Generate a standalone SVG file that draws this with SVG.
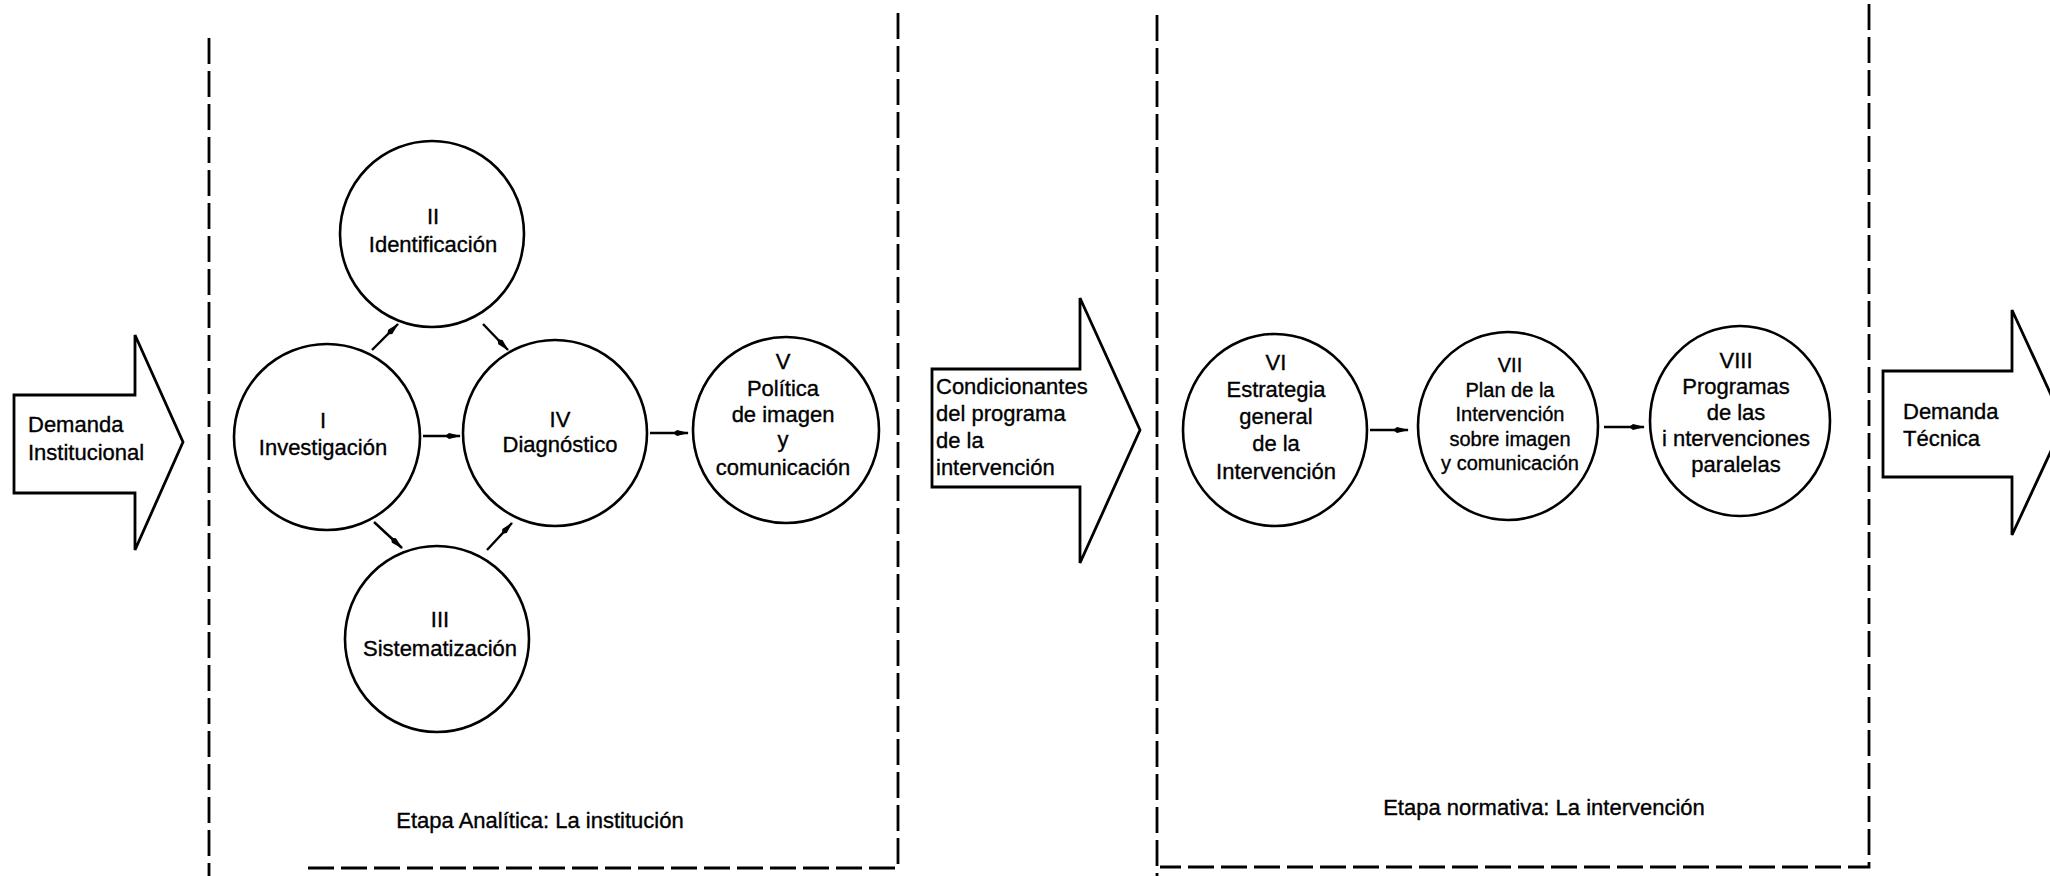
<svg xmlns="http://www.w3.org/2000/svg" width="2050" height="876" viewBox="0 0 2050 876">
<style>
  .bg { fill: #ffffff; }
  .node { fill: #ffffff; stroke: #000; stroke-width: 2.6; }
  .big { fill: #ffffff; stroke: #000; stroke-width: 2.8; stroke-linejoin: miter; }
  .frame { fill: none; stroke: #000; stroke-width: 2.8; stroke-dasharray: 26 7; }
  .conn { fill: none; stroke: #000; stroke-width: 2.4; }
  text { font-family: "Liberation Sans", Arial, sans-serif; font-size: 22px; fill: #000; stroke: #000; stroke-width: 0.35; }
  .c { text-anchor: middle; }
  .s { font-size: 20px; }
</style>
<defs>
  <marker id="ah" viewBox="0 0 16 8" refX="15" refY="4" markerWidth="16" markerHeight="8" markerUnits="userSpaceOnUse" orient="auto">
    <path d="M0,4 L4,1 L16,4 L4,7 Z" fill="#000"/>
  </marker>
</defs>
<rect class="bg" x="0" y="0" width="2050" height="876"/>

<g id="frames">
  <path class="frame" d="M209,38 L209,876"/>
  <path class="frame" d="M898,13 L898,868 L305,868"/>
  <path class="frame" d="M1157,15 L1157,876"/>
  <path class="frame" d="M1869,4 L1869,867 L1160,867"/>
</g>

<g id="arrow-demanda-institucional">
  <path class="big" d="M14,395 L135,395 L135,335 L183,442 L135,550 L135,493 L14,493 Z"/>
  <text x="28" y="432">Demanda</text>
  <text x="28" y="460">Institucional</text>
</g>

<g id="arrow-condicionantes">
  <path class="big" d="M932,369 L1080,369 L1080,298 L1140,430 L1080,563 L1080,487 L932,487 Z"/>
  <text x="936" y="394">Condicionantes</text>
  <text x="936" y="421">del programa</text>
  <text x="936" y="448">de la</text>
  <text x="936" y="475">intervención</text>
</g>

<g id="arrow-demanda-tecnica">
  <path class="big" d="M1883,371 L2012,371 L2012,310 L2064,423 L2012,535 L2012,477 L1883,477 Z"/>
  <text x="1903" y="419">Demanda</text>
  <text x="1903" y="446">Técnica</text>
</g>

<g id="node-I">
  <ellipse class="node" cx="327" cy="437" rx="93" ry="93"/>
  <text class="c" x="323" y="428">I</text>
  <text class="c" x="323" y="455">Investigación</text>
</g>
<g id="node-II">
  <ellipse class="node" cx="432" cy="234" rx="92" ry="93"/>
  <text class="c" x="433" y="224">II</text>
  <text class="c" x="433" y="252">Identificación</text>
</g>
<g id="node-III">
  <ellipse class="node" cx="437" cy="639" rx="92" ry="93"/>
  <text class="c" x="440" y="627">III</text>
  <text class="c" x="440" y="656">Sistematización</text>
</g>
<g id="node-IV">
  <ellipse class="node" cx="555" cy="433" rx="92" ry="93"/>
  <text class="c" x="560" y="427">IV</text>
  <text class="c" x="560" y="452">Diagnóstico</text>
</g>
<g id="node-V">
  <ellipse class="node" cx="786" cy="430" rx="93" ry="93"/>
  <text class="c" x="783" y="369">V</text>
  <text class="c" x="783" y="396">Política</text>
  <text class="c" x="783" y="422">de imagen</text>
  <text class="c" x="783" y="447">y</text>
  <text class="c" x="783" y="475">comunicación</text>
</g>
<g id="node-VI">
  <ellipse class="node" cx="1275" cy="430" rx="92" ry="96"/>
  <text class="c" x="1276" y="370">VI</text>
  <text class="c" x="1276" y="397">Estrategia</text>
  <text class="c" x="1276" y="424">general</text>
  <text class="c" x="1276" y="451">de la</text>
  <text class="c" x="1276" y="479">Intervención</text>
</g>
<g id="node-VII">
  <ellipse class="node" cx="1508" cy="426" rx="90" ry="94"/>
  <text class="c s" x="1510" y="372">VII</text>
  <text class="c s" x="1510" y="397">Plan de la</text>
  <text class="c s" x="1510" y="421">Intervención</text>
  <text class="c s" x="1510" y="446">sobre imagen</text>
  <text class="c s" x="1510" y="470">y comunicación</text>
</g>
<g id="node-VIII">
  <ellipse class="node" cx="1740" cy="421" rx="90" ry="95"/>
  <text class="c" x="1736" y="368">VIII</text>
  <text class="c" x="1736" y="394">Programas</text>
  <text class="c" x="1736" y="420">de las</text>
  <text class="c" x="1736" y="446">i ntervenciones</text>
  <text class="c" x="1736" y="472">paralelas</text>
</g>

<g id="connectors">
  <line class="conn" x1="372" y1="350" x2="398" y2="324" marker-end="url(#ah)"/>
  <line class="conn" x1="483" y1="324" x2="508" y2="350" marker-end="url(#ah)"/>
  <line class="conn" x1="374" y1="522" x2="402" y2="548" marker-end="url(#ah)"/>
  <line class="conn" x1="487" y1="550" x2="512" y2="523" marker-end="url(#ah)"/>
  <line class="conn" x1="423" y1="436" x2="460" y2="436" marker-end="url(#ah)"/>
  <line class="conn" x1="650" y1="433" x2="688" y2="433" marker-end="url(#ah)"/>
  <line class="conn" x1="1370" y1="430" x2="1408" y2="430" marker-end="url(#ah)"/>
  <line class="conn" x1="1604" y1="427" x2="1644" y2="427" marker-end="url(#ah)"/>
</g>

<g id="labels">
  <text class="c" x="540" y="828">Etapa Analítica: La institución</text>
  <text class="c" x="1544" y="815">Etapa normativa: La intervención</text>
</g>
</svg>
